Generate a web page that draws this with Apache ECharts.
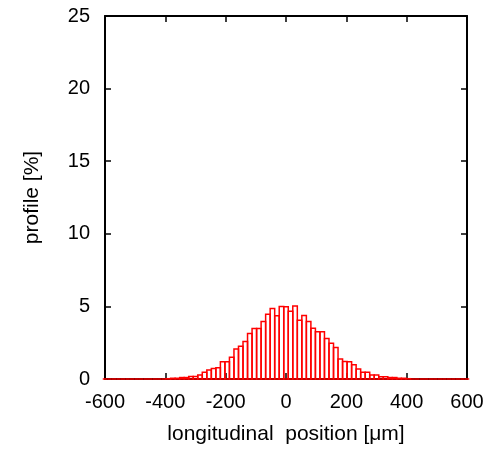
<!DOCTYPE html>
<html>
<head>
<meta charset="utf-8">
<script src="https://cdn.jsdelivr.net/npm/echarts@6/dist/echarts.min.js"></script>
<style>
    html, body { margin: 0; padding: 0; background: #fff; }
    #chart { width: 501px; height: 450px; }
</style>
</head>
<body>
<div id="chart"></div>
<script>
// histogram bins, 15 um wide, from -600 to 600
const binStart = -600;
const binWidth = 15;
const profile = [
    0, 0, 0, 0, 0, 0, 0, 0, 0, 0, 0, 0, 0, 0,
    0.02, 0.05, 0.05, 0.1, 0.1, 0.18, 0.18, 0.27, 0.46, 0.62,
    0.73, 0.78, 1.19, 1.19, 1.49, 2.06, 2.25, 2.59, 3.14, 3.48,
    3.48, 3.96, 4.46, 4.85, 4.35, 5.0, 4.97, 4.66, 5.03, 4.05,
    4.38, 3.96, 3.5, 3.25, 3.25, 2.79, 2.47, 2.17, 1.37, 1.21,
    1.19, 0.98, 0.69, 0.46, 0.46, 0.27, 0.27, 0.16, 0.16, 0.1,
    0.1, 0.05, 0.05, 0.02,
    0, 0, 0, 0, 0, 0, 0, 0, 0, 0, 0, 0, 0
];
const xTicks = [-600, -400, -200, 0, 200, 400, 600];
const yTicks = [0, 5, 10, 15, 20, 25];

function renderProfile() {
    const chartDom = document.getElementById('chart');
    const myChart = echarts.init(chartDom, null, { renderer: 'canvas' });

    const data = profile.map((v, i) => [binStart + i * binWidth, v]);
    const font = 'Liberation Sans';

    const tickStyle = { show: true, inside: true, length: 6, lineStyle: { color: '#000', width: 1.5 } };
    const lineStyle = { color: '#000', width: 2 };

    const option = {
        animation: false,
        grid: { left: 105, right: 34, top: 16, bottom: 69 },
        xAxis: [
            {
                type: 'value', min: xTicks[0], max: xTicks[xTicks.length - 1], interval: 200,
                position: 'bottom',
                name: 'longitudinal  position [\u03bcm]', nameLocation: 'middle', nameGap: 45,
                nameTextStyle: { fontFamily: font, fontSize: 21, color: '#000' },
                axisLine: { show: true, onZero: false, lineStyle: lineStyle },
                axisTick: tickStyle,
                axisLabel: { fontFamily: font, fontSize: 20, color: '#000', margin: 13 },
                splitLine: { show: false }
            },
            {
                type: 'value', min: xTicks[0], max: xTicks[xTicks.length - 1], interval: 200,
                position: 'top',
                axisLine: { show: true, onZero: false, lineStyle: lineStyle },
                axisTick: tickStyle,
                axisLabel: { show: false },
                splitLine: { show: false }
            }
        ],
        yAxis: [
            {
                type: 'value', min: yTicks[0], max: yTicks[yTicks.length - 1], interval: 5,
                position: 'left',
                name: 'profile [%]', nameLocation: 'middle', nameGap: 62, nameRotate: 90,
                nameTextStyle: { fontFamily: font, fontSize: 21, color: '#000' },
                axisLine: { show: true, onZero: false, lineStyle: lineStyle },
                axisTick: tickStyle,
                axisLabel: { fontFamily: font, fontSize: 20, color: '#000', margin: 15 },
                splitLine: { show: false }
            },
            {
                type: 'value', min: yTicks[0], max: yTicks[yTicks.length - 1], interval: 5,
                position: 'right',
                axisLine: { show: true, onZero: false, lineStyle: lineStyle },
                axisTick: tickStyle,
                axisLabel: { show: false },
                splitLine: { show: false }
            }
        ],
        series: [
            {
                name: 'profile',
                type: 'custom',
                xAxisIndex: 0,
                yAxisIndex: 0,
                data: data,
                renderItem: function (params, api) {
                    const x = api.value(0);
                    const y = api.value(1);
                    const p0 = api.coord([x - binWidth / 2, y]);
                    const p1 = api.coord([x + binWidth / 2, 0]);
                    return {
                        type: 'rect',
                        shape: { x: p0[0], y: p0[1], width: p1[0] - p0[0], height: p1[1] - p0[1] },
                        style: { fill: 'none', stroke: '#ff0000', lineWidth: 1.5 }
                    };
                }
            }
        ]
    };
    myChart.setOption(option);
}

renderProfile();
</script>
</body>
</html>
